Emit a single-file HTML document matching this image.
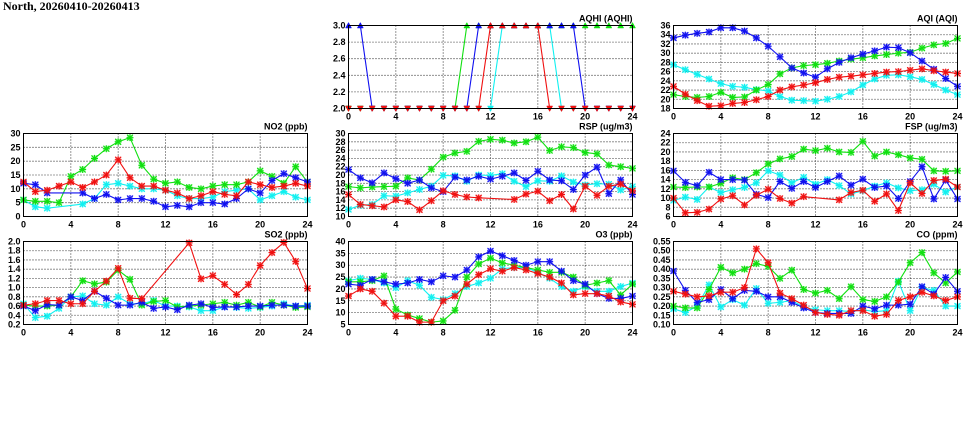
<!DOCTYPE html>
<html><head><meta charset="utf-8"><style>
html,body{margin:0;padding:0;background:#fff;}
svg{display:block;}
text{font-family:"Liberation Sans",sans-serif;font-weight:bold;font-size:9px;fill:#000;}
.ttl{font-family:"Liberation Serif",serif;font-size:12px;}
</style></head><body>
<svg id="chart" width="975" height="447" viewBox="0 0 975 447">
<text class="ttl" x="3" y="10">North, 20260410-20260413</text>
</svg>
<script>
const hours = [0,1,2,3,4,5,6,7,8,9,10,11,12,13,14,15,16,17,18,19,20,21,22,23,24];
const xTicks = [0,4,8,12,16,20,24];
const seriesColors = {red:"#f01010",green:"#10e010",blue:"#1010f0",cyan:"#10f0f0"};
const drawOrder = ["cyan","green","blue","red"];

// AQHI
const aqhiTicks = [2.0,2.2,2.4,2.6,2.8,3.0];
const aqhiRed   = [2,2,2,2,2,2,2,2,2,2,2,2,3,3,3,3,3,2,2,2,2,2,2,2,2];
const aqhiGreen = [2,2,2,2,2,2,2,2,2,2,3,3,3,3,3,3,3,3,3,3,3,3,3,3,3];
const aqhiBlue  = [3,3,2,2,2,2,2,2,2,2,2,3,3,3,3,3,3,3,3,3,2,2,2,2,2];
const aqhiCyan  = [2,2,2,2,2,2,2,2,2,2,2,2,2,3,3,3,3,3,2,2,2,2,2,2,2];
// AQI
const aqiTicks = [18,20,22,24,26,28,30,32,34,36];
const aqiBlue  = [33.3,33.9,34.3,34.6,35.5,35.5,34.8,33.3,31.5,29.2,26.8,25.7,24.8,26.6,28,29,29.8,30.5,31.3,31.2,30.1,28.3,26.5,24.5,22.8];
const aqiGreen = [21,20.6,20.4,20.6,21.5,20.4,20.5,22,23.2,25.5,26.8,27.3,27.5,27.8,28.3,28.7,29,29.4,29.7,30,30.2,31.1,31.8,32.1,33.2];
const aqiRed   = [22.8,21.1,19.7,18.5,18.6,19.1,19.3,19.9,20.6,22,22.7,23.1,23.6,24.3,24.8,25,25.3,25.6,25.9,26,26.3,26.6,26.2,25.9,25.6];
const aqiCyan  = [27.5,26.4,25.4,24.4,23.4,22.8,22.6,22.1,21.8,20.6,19.8,19.7,19.6,20,20.6,21.6,23.1,24.4,25.2,25.3,24.9,24.3,23.2,22,21];
// NO2
const no2Ticks = [0,5,10,15,20,25,30];
const no2Green = [6,5.5,5.5,5,14.5,17,21,24.5,27,28.5,18.5,13.5,12,12.5,10.5,10,11,11.5,11.5,12.5,16.5,14.5,12,18,12.5];
const no2Red   = [12.5,9,9.5,11,12.5,10.5,12.5,15,20.5,14,11,11,9.5,8.5,6.5,7.5,9,8,7.5,12.5,11.5,10.5,11,12,11];
const no2Blue  = [12,11.5,8.5,null,null,8.5,6.5,8,6,6.5,6.5,5.5,3.5,4,3.5,5,5,4.5,6.5,10,8.5,13,15.5,14,12.5];
const no2Cyan  = [6,3.5,3,null,null,4.5,6.5,11.5,12,11,10,10,9.5,7.5,6.5,6.5,7,9,9.5,10,6,7.5,9,7,6];
// RSP
const rspTicks = [10,12,14,16,18,20,22,24,26,28,30];
const rspGreen = [17.2,16.9,17.1,17.2,17.3,19.3,18.8,21.4,24.3,25.3,25.7,28.1,28.6,28.4,27.7,28,29.1,25.9,26.8,26.6,25.4,25.1,22.4,22,21.6];
const rspBlue  = [21.3,19.3,18.1,20.5,19.1,18,18.8,16.9,16,19.5,18.8,19.7,19,19.7,20.5,18.7,20.9,18.8,18.6,16.5,20,21.9,15.5,18.8,15.3];
const rspCyan  = [11.7,12.7,12.9,15,14.9,15.7,16.5,17.3,19.9,19.8,18.5,20,19.9,20.3,18.5,17.2,18.6,18.5,19.8,18.3,17.6,17.9,17.8,16.4,17.2];
const rspRed   = [15.3,12.9,12.6,12.3,14,13.6,11.6,13.8,16.2,15.3,14.7,14.5,null,null,14.1,15.4,16.1,13.8,15.3,11.8,17.3,15.1,17.3,17.8,16.2];
// FSP
const fspTicks = [6,8,10,12,14,16,18,20,22,24];
const fspGreen = [12.4,12.3,12.4,12.4,13.2,14.4,14,15.5,17.4,18.5,19,20.6,20.3,20.8,20,19.9,22.3,19.1,20,19.4,18.7,18.4,15.9,15.8,15.9];
const fspBlue  = [15.9,13.4,12.7,15.6,14,14,13.9,10.8,10.1,13.6,12.1,13.6,12.3,13.6,14.8,12.8,14.1,12.3,12.6,9.9,13.6,16.8,9.8,13.9,9.8];
const fspCyan  = [9.5,10.2,9.7,12.4,11.2,11.8,12.3,13.3,15.9,15,13.3,14.5,13,14,12.7,10.9,11.6,12.6,13.3,12.2,11.6,11.8,13,11.3,12.4];
const fspRed   = [10,6.8,6.9,7.6,9.8,10.5,8.5,10.6,11.9,9.9,8.9,10.3,null,null,9.6,11.2,11.7,9.3,10.9,7.3,13.3,11,13.8,14.1,12.4];
// SO2
const so2Ticks = [0.2,0.4,0.6,0.8,1.0,1.2,1.4,1.6,1.8,2.0];
const so2Red   = [0.62,0.65,0.72,0.72,0.65,0.65,0.92,1.14,1.42,0.77,0.76,null,null,null,1.97,1.19,1.26,1.07,0.85,1.07,1.48,1.76,1.98,1.57,0.98];
const so2Green = [0.62,0.6,0.6,0.62,0.8,1.15,1.08,1.12,1.38,1.18,0.62,0.7,0.72,0.58,0.6,0.62,0.65,0.68,0.62,0.68,0.58,0.68,0.62,0.57,0.58];
const so2Blue  = [0.6,0.5,0.63,0.62,0.8,0.72,0.92,0.77,0.62,0.62,0.68,0.55,0.58,0.52,0.62,0.65,0.57,0.58,0.58,0.6,0.6,0.62,0.62,0.6,0.6];
const so2Cyan  = [0.65,0.35,0.38,0.55,0.8,0.82,0.65,0.62,0.8,0.65,0.65,0.72,0.6,0.6,0.58,0.5,0.5,0.58,0.57,0.55,0.57,0.6,0.65,0.6,0.62];
// O3
const o3Ticks = [5,10,15,20,25,30,35,40];
const o3Blue  = [22,21.5,24,23,22,22.5,24,23,25.5,25,28,33.5,36,34,32,30,31.5,31.5,27.5,23.5,22,18,16,16,17];
const o3Green = [23,23,23.5,25.5,11.5,9,7.5,6,6.5,11,25,30.5,33,31,30,29,28,27,27,25,21.5,22.5,23.5,17.5,22];
const o3Red   = [17,20,19,14,8.5,8.5,6,6,15,17,22,26,28.5,27.5,29,28,26.5,25,22.5,17.5,18,18,17,14.5,13.5];
const o3Cyan  = [23.5,24.5,24,22.5,20.5,23.5,21.5,16.5,15.5,18,21,22.5,24.5,28.5,29,29,27,24.5,21,19,21,19,19,21,22.5];
// CO
const coTicks = [0.10,0.15,0.20,0.25,0.30,0.35,0.40,0.45,0.50,0.55];
const coBlue  = [0.39,0.285,0.22,0.235,0.29,0.24,0.285,0.28,0.25,0.25,0.22,0.19,0.165,0.16,0.16,0.16,0.2,0.185,0.205,0.205,0.21,0.305,0.265,0.355,0.28];
const coRed   = [0.28,0.265,0.25,0.255,0.275,0.275,0.3,0.51,0.435,0.27,0.24,0.205,0.165,0.155,0.15,0.175,0.175,0.145,0.155,0.23,0.25,0.275,0.255,0.23,0.25];
const coGreen = [0.2,0.19,0.19,0.29,0.41,0.38,0.4,0.43,0.415,0.35,0.395,0.29,0.27,0.285,0.24,0.305,0.235,0.225,0.25,0.33,0.435,0.49,0.38,0.325,0.385];
const coCyan  = [0.185,0.165,0.2,0.315,0.195,0.235,0.205,0.295,0.215,0.22,0.23,0.195,0.18,0.175,0.175,0.17,0.18,0.17,0.175,0.335,0.175,0.3,0.285,0.2,0.2];

const NS = "http://www.w3.org/2000/svg";
const svg = document.getElementById("chart");
function mk(tag, attrs, parent){
  const e = document.createElementNS(NS, tag);
  for (const k in attrs) e.setAttribute(k, attrs[k]);
  (parent||svg).appendChild(e);
  return e;
}
const PW = 284, PH = 83;
function panel(key, title, left, top, ticks, dec, series, tri){
  const g = mk("g", {});
  
  
  const ymin = ticks[0], ymax = ticks[ticks.length-1];
  const xs = h => left + h/24*PW;
  const ys = v => top + PH - (v-ymin)/(ymax-ymin)*PH;
  ticks.forEach(t => {
    const y = ys(t);
    if (t!==ymin && t!==ymax) {
      const l = mk("line", {x1:left,x2:left+PW,y1:y,y2:y,stroke:"#000","stroke-width":0.8,"stroke-dasharray":"1,2"}, g);
      
      
    }
    const tx = mk("text", {x:left-3,y:y+3,"text-anchor":"end"}, g);
    tx.textContent = t.toFixed(dec);
    
    
  });
  xTicks.forEach(t => {
    const x = xs(t);
    if (t!==0 && t!==24) {
      const l = mk("line", {x1:x,x2:x,y1:top,y2:top+PH,stroke:"#000","stroke-width":0.8,"stroke-dasharray":"1,2"}, g);
      
      
    }
    const tx = mk("text", {x:x,y:top+PH+11,"text-anchor":"middle"}, g);
    tx.textContent = t;
    
    
  });
  const tt = mk("text", {x:left+PW,y:top-4,"text-anchor":"end"}, g);
  tt.textContent = title;
  
  
  drawOrder.forEach(c => {
    const vals = series[c];
    const col = seriesColors[c];
    const pts = [];
    vals.forEach((v,i) => { if (v!==null) pts.push([xs(hours[i]), ys(v)]); });
    const pl = mk("polyline", {points:pts.map(p=>p.join(",")).join(" "),fill:"none",stroke:col,"stroke-width":1.1}, g);
    
    
    vals.forEach((v,i) => {
      if (v===null) return;
      const x = xs(hours[i]), y = ys(v);
      let m;
      if (tri) {
        const up = v >= ymax - 1e-9;
        const d = up ? `M${x-3},${y+2.5} L${x+3},${y+2.5} L${x},${y-3} Z` : `M${x-3},${y-2.5} L${x+3},${y-2.5} L${x},${y+3} Z`;
        m = mk("path", {d:d, fill:col, stroke:col, "stroke-width":0.5}, g);
      } else {
        m = mk("g", {}, g);
        mk("rect", {x:x-3,y:y-3,width:6,height:6,fill:col,"fill-opacity":0.35}, m);
        mk("path", {d:`M${x-3},${y-3}L${x+3},${y+3}M${x+3},${y-3}L${x-3},${y+3}M${x},${y-3.5}L${x},${y+3.5}M${x-3.5},${y}L${x+3.5},${y}`, stroke:col,"stroke-width":1.1}, m);
      }
      
      
    });
  });
  const fr = mk("rect", {x:left,y:top,width:PW,height:PH,fill:"none",stroke:"#000","stroke-width":1}, g);
  
  
}
const C1 = 23.5, C2 = 348.5, C3 = 673.5, R1 = 25.5, R2 = 133.5, R3 = 241.5;
panel("aqhi","AQHI (AQHI)",C2,R1,aqhiTicks,1,{red:aqhiRed,green:aqhiGreen,blue:aqhiBlue,cyan:aqhiCyan},true);
panel("aqi","AQI (AQI)",C3,R1,aqiTicks,0,{red:aqiRed,green:aqiGreen,blue:aqiBlue,cyan:aqiCyan},false);
panel("no2","NO2 (ppb)",C1,R2,no2Ticks,0,{red:no2Red,green:no2Green,blue:no2Blue,cyan:no2Cyan},false);
panel("rsp","RSP (ug/m3)",C2,R2,rspTicks,0,{red:rspRed,green:rspGreen,blue:rspBlue,cyan:rspCyan},false);
panel("fsp","FSP (ug/m3)",C3,R2,fspTicks,0,{red:fspRed,green:fspGreen,blue:fspBlue,cyan:fspCyan},false);
panel("so2","SO2 (ppb)",C1,R3,so2Ticks,1,{red:so2Red,green:so2Green,blue:so2Blue,cyan:so2Cyan},false);
panel("o3","O3 (ppb)",C2,R3,o3Ticks,0,{red:o3Red,green:o3Green,blue:o3Blue,cyan:o3Cyan},false);
panel("co","CO (ppm)",C3,R3,coTicks,2,{red:coRed,green:coGreen,blue:coBlue,cyan:coCyan},false);
</script>
</body></html>
